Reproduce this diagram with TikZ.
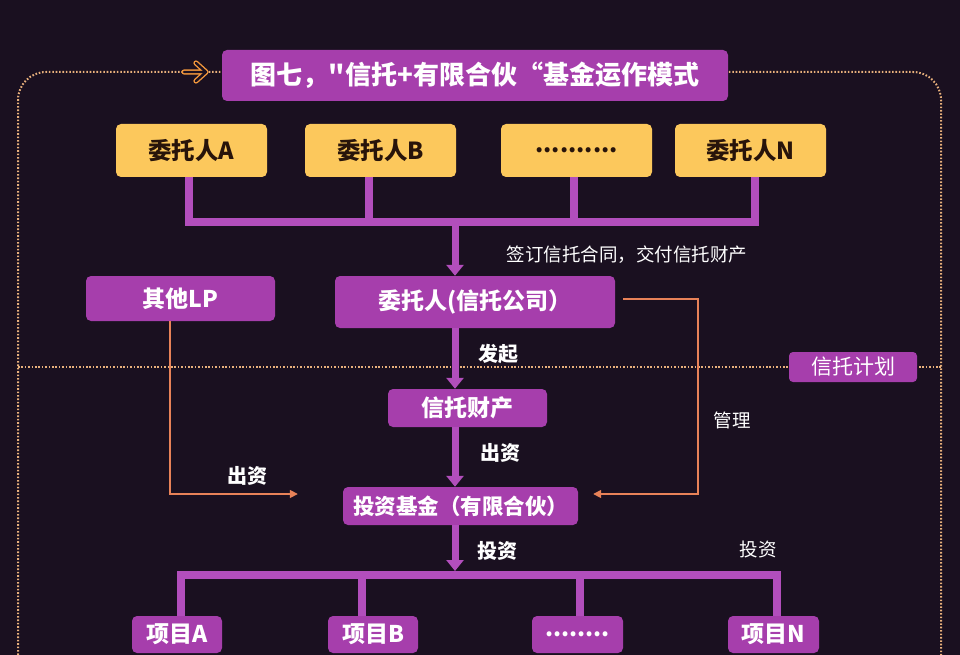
\documentclass[tikz,border=0pt]{standalone}
\usepackage{fontspec}
\setmainfont{Noto Sans CJK SC}[Ligatures=TeXOff]
\usetikzlibrary{arrows.meta,calc}
\definecolor{bg}{RGB}{26,16,32}
\definecolor{pfill}{RGB}{166,62,172}
\definecolor{pbar}{RGB}{178,78,188}
\definecolor{yfill}{RGB}{252,200,92}
\definecolor{ytext}{RGB}{40,20,10}
\definecolor{oline}{RGB}{232,130,88}
\definecolor{dotc}{RGB}{232,176,124}
\definecolor{iconc}{RGB}{240,150,60}
\newcommand{\fs}[1]{\fontsize{#1}{#1}\selectfont}
\tikzset{
  ybox/.style={fill=yfill,rounded corners=5pt,inner sep=0pt,minimum width=151pt,minimum height=53pt,text=ytext,font=\fs{23.5pt}\bfseries},
  pbox/.style={fill=pfill,rounded corners=5pt,inner sep=0pt,text=white,font=\fs{23pt}\bfseries},
  bar/.style={draw=pbar,line width=8pt},
  barrow/.style={draw=pbar,line width=7pt,-{Triangle[width=17pt,length=11pt]}},
  oconn/.style={draw=oline,line width=1.6pt,-{Triangle[width=8pt,length=8pt]}},
  frame/.style={draw=dotc,line width=2pt,dash pattern=on 1.6pt off 1.8pt},
  blabel/.style={text=white,font=\fs{20pt}\bfseries,inner sep=0pt},
  nlabel/.style={text=white,font=\fs{18.5pt},inner sep=0pt}
}
\begin{document}
\begin{tikzpicture}[x=1pt,y=-1pt]
\fill[bg] (0,0) rectangle (960,655);
\useasboundingbox (0,0) rectangle (960,655);
% dotted frames
\draw[frame,rounded corners=28pt] (18,655) -- (18,72) -- (941,72) -- (941,655);
\draw[frame] (18,367) -- (941,367);
% arrow icon
\draw[iconc,line width=1.4pt,double=bg,double distance=2.4pt,line cap=round,line join=round]
  (184,72) -- (204,72) (196,63) -- (206,72) -- (196,81);
% title
\node[pbox,minimum width=506pt,minimum height=51pt,font=\fs{26pt}\bfseries] (title) at (475,75.5) {图七，"信托+有限合伙“基金运作模式};
% settlor boxes
\node[ybox] (yA) at (191.5,150.5) {委托人A};
\node[ybox] (yB) at (380.5,150.5) {委托人B};
\node[ybox] (yD) at (576.5,150.5) {..........};
\node[ybox] (yN) at (750.5,150.5) {委托人N};
% trust company etc
\node[pbox,minimum width=280pt,minimum height=52pt] (trust) at (475,302) {委托人(信托公司）};
\node[pbox,minimum width=189pt,minimum height=45pt] (lp) at (180.5,298.5) {其他LP};
\node[pbox,minimum width=159pt,minimum height=38pt] (prop) at (467.5,408) {信托财产};
\node[pbox,minimum width=235pt,minimum height=38pt,font=\fs{21.5pt}\bfseries] (fund) at (460.5,506) {投资基金（有限合伙）};
\node[pbox,minimum width=128pt,minimum height=30pt,font=\fs{21pt},rounded corners=4pt] (plan) at (853,367) {信托计划};
% projects
\node[pbox,minimum width=90pt,minimum height=37pt] (pA) at (177,634.5) {项目A};
\node[pbox,minimum width=90pt,minimum height=37pt] (pB) at (373,634.5) {项目B};
\node[pbox,minimum width=91pt,minimum height=37pt] (pD) at (577.5,634.5) {........};
\node[pbox,minimum width=91pt,minimum height=37pt] (pN) at (773.5,634.5) {项目N};
% top bus
\coordinate (busL) at (185,222);
\coordinate (busR) at (759,222);
\coordinate (spine) at (455,222);
\draw[bar] (busL) -- (busR);
\draw[bar] ([xshift=-2.5pt]yA.south) -- ([xshift=-2.5pt,yshift=-4pt]yA.south |- busL);
\draw[bar] ([xshift=-11.5pt]yB.south) -- ([xshift=-11.5pt,yshift=-4pt]yB.south |- busL);
\draw[bar] ([xshift=-2.5pt]yD.south) -- ([xshift=-2.5pt,yshift=-4pt]yD.south |- busL);
\draw[bar] ([xshift=4.5pt]yN.south) -- ([xshift=4.5pt,yshift=-4pt]yN.south |- busL);
\draw[barrow] ([yshift=4pt]spine) -- (spine |- trust.north);
\draw[barrow] (spine |- trust.south) -- (spine |- prop.north);
\draw[barrow] (spine |- prop.south) -- (spine |- fund.north);
% bottom bus
\coordinate (bus2L) at (177,575);
\coordinate (bus2R) at (781,575);
\draw[barrow] (spine |- fund.south) -- ([yshift=4pt]spine |- bus2L);
\draw[bar] (bus2L) -- (bus2R);
\draw[bar] ([xshift=4pt,yshift=4pt]pA.north |- bus2L) -- ([xshift=4pt]pA.north);
\draw[bar] ([xshift=-11pt,yshift=4pt]pB.north |- bus2L) -- ([xshift=-11pt]pB.north);
\draw[bar] ([xshift=2.5pt,yshift=4pt]pD.north |- bus2L) -- ([xshift=2.5pt]pD.north);
\draw[bar] ([xshift=3.5pt,yshift=4pt]pN.north |- bus2L) -- ([xshift=3.5pt]pN.north);
% orange connectors
\coordinate (m1) at (698,299);
\coordinate (m2) at (698,494);
\coordinate (l1) at (170,494);
\draw[oconn,line join=miter] ([xshift=8pt,yshift=3pt]trust.east) -- (m1) -- (m2) -- ([xshift=15pt,yshift=12pt]fund.east);
\draw[oconn,line join=miter] ([xshift=-10.5pt]lp.south) -- (l1) -- ([xshift=-45pt,yshift=12pt]fund.west);
% labels
\node[nlabel] (lsign) at (627,255) {签订信托合同，交付信托财产};
\node[blabel] (lfq) at (498,354) {发起};
\node[blabel] (lcz1) at (500,453) {出资};
\node[blabel] (lcz2) at (247,476) {出资};
\node[blabel] (ltz1) at (497,551) {投资};
\node[nlabel] (lgl) at (732,420) {管理};
\node[nlabel] (ltz2) at (758,549) {投资};
\end{tikzpicture}
\end{document}
